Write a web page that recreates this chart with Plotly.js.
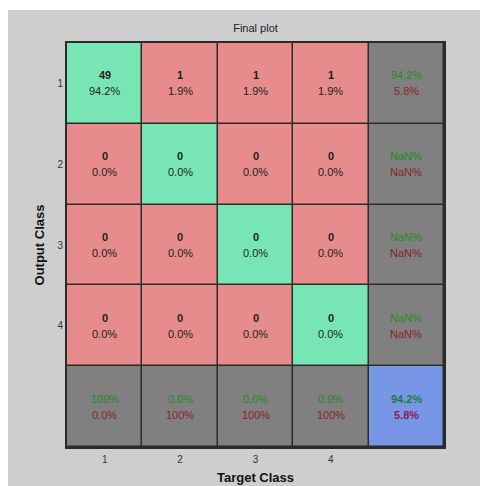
<!DOCTYPE html>
<html>
<head>
<meta charset="utf-8">
<script src="https://cdn.plot.ly/plotly-3.0.1.min.js"></script>
<style>
  html, body { margin: 0; padding: 0; background: #ffffff; width: 480px; height: 486px; overflow: hidden; }
  #plot { position: absolute; left: 8px; top: 10px; width: 472px; height: 476px; background: #cecece; }
</style>
</head>
<body>
<div id="plot"></div>
<script>
// ---- data ----
const classLabels = ['1', '2', '3', '4'];
// counts[outputRow][targetCol]
const counts = [
  [49, 1, 1, 1],
  [0, 0, 0, 0],
  [0, 0, 0, 0],
  [0, 0, 0, 0]
];
const cellPct = [
  [94.2, 1.9, 1.9, 1.9],
  [0.0, 0.0, 0.0, 0.0],
  [0.0, 0.0, 0.0, 0.0],
  [0.0, 0.0, 0.0, 0.0]
];
const rowCorrectPct = [94.2, NaN, NaN, NaN];
const rowWrongPct   = [5.8, NaN, NaN, NaN];
const colCorrectPct = [100, 0.0, 0.0, 0.0];
const colWrongPct   = [0.0, 100, 100, 100];
const overallPct    = [94.2, 5.8];

// ---- build ----
const n = classLabels.length;
const fmt = v => isNaN(v) ? 'NaN%' : (v === 100 ? '100%' : v.toFixed(1) + '%');

const pos = [];
for (let i = 1; i <= n + 1; i++) pos.push(i);

// category index per cell: 0 diag, 1 off-diag, 2 summary, 3 overall
const z = [];
for (let r = 0; r <= n; r++) {
  const row = [];
  for (let c = 0; c <= n; c++) {
    if (r === n && c === n) row.push(3);
    else if (r === n || c === n) row.push(2);
    else if (r === c) row.push(0);
    else row.push(1);
  }
  z.push(row);
}

const cGreen = '#78e6b4', cRed = '#e68c8c', cGray = '#808080', cBlue = '#7896e6';
const colorscale = [
  [0, cGreen], [0.25, cGreen],
  [0.25, cRed], [0.5, cRed],
  [0.5, cGray], [0.75, cGray],
  [0.75, cBlue], [1, cBlue]
];

const fontFam = '"Liberation Sans", Arial, sans-serif';
const txtGreen = '#1e8c1e', txtRed = '#8c1e28', txtDark = '#1e1e1e';
const ann = [];
function addPair(x, y, top, bottom, topColor, bottomColor, topBold, bottomBold) {
  ann.push({ x: x, y: y, xref: 'x', yref: 'y', text: topBold ? '<b>' + top + '</b>' : top,
    showarrow: false, yshift: 8, font: { family: fontFam, size: 11, color: topColor } });
  ann.push({ x: x, y: y, xref: 'x', yref: 'y', text: bottomBold ? '<b>' + bottom + '</b>' : bottom,
    showarrow: false, yshift: -8, font: { family: fontFam, size: 11, color: bottomColor } });
}
for (let r = 0; r < n; r++) {
  for (let c = 0; c < n; c++) {
    addPair(c + 1, r + 1, String(counts[r][c]), fmt(cellPct[r][c]), txtDark, txtDark, true, false);
  }
  addPair(n + 1, r + 1, fmt(rowCorrectPct[r]), fmt(rowWrongPct[r]), txtGreen, txtRed, false, false);
}
for (let c = 0; c < n; c++) {
  addPair(c + 1, n + 1, fmt(colCorrectPct[c]), fmt(colWrongPct[c]), txtGreen, txtRed, false, false);
}
addPair(n + 1, n + 1, fmt(overallPct[0]), fmt(overallPct[1]), '#1e7a3c', '#8c1e50', true, true);

const trace = {
  type: 'heatmap',
  x: pos, y: pos, z: z,
  zmin: 0, zmax: 3,
  colorscale: colorscale,
  showscale: false,
  xgap: 1.5, ygap: 1.5,
  hoverinfo: 'skip'
};

const layout = {
  width: 472, height: 476,
  paper_bgcolor: '#cecece',
  plot_bgcolor: '#2b2b2b',
  margin: { l: 59, r: 36, t: 33, b: 39 },
  font: { family: fontFam, size: 10, color: '#333333' },
  title: { text: 'Final plot', x: 0.5, xref: 'paper', y: 1 - 18 / 476, yanchor: 'middle',
           font: { family: fontFam, size: 11, color: '#222222' } },
  xaxis: {
    range: [0.5, n + 1.5], tickvals: pos.slice(0, n), ticktext: classLabels,
    showgrid: false, zeroline: false,
    ticks: 'outside', ticklen: 2, tickcolor: 'rgba(0,0,0,0)',
    showline: true, mirror: true, linecolor: '#2b2b2b', linewidth: 2,
    tickfont: { family: fontFam, size: 10, color: '#333333' },
    title: { text: '<b>Target Class</b>', standoff: 9, font: { family: fontFam, size: 13, color: '#111111' } }
  },
  yaxis: {
    range: [n + 1.5, 0.5], tickvals: pos.slice(0, n), ticktext: classLabels,
    showgrid: false, zeroline: false,
    ticks: 'outside', ticklen: 0, tickcolor: 'rgba(0,0,0,0)',
    showline: true, mirror: true, linecolor: '#2b2b2b', linewidth: 2,
    tickfont: { family: fontFam, size: 10, color: '#333333' },
    title: { text: '<b>Output Class</b>', standoff: 10, font: { family: fontFam, size: 13, color: '#111111' } }
  },
  annotations: ann
};

Plotly.newPlot('plot', [trace], layout, { displayModeBar: false, staticPlot: true });
</script>
</body>
</html>
